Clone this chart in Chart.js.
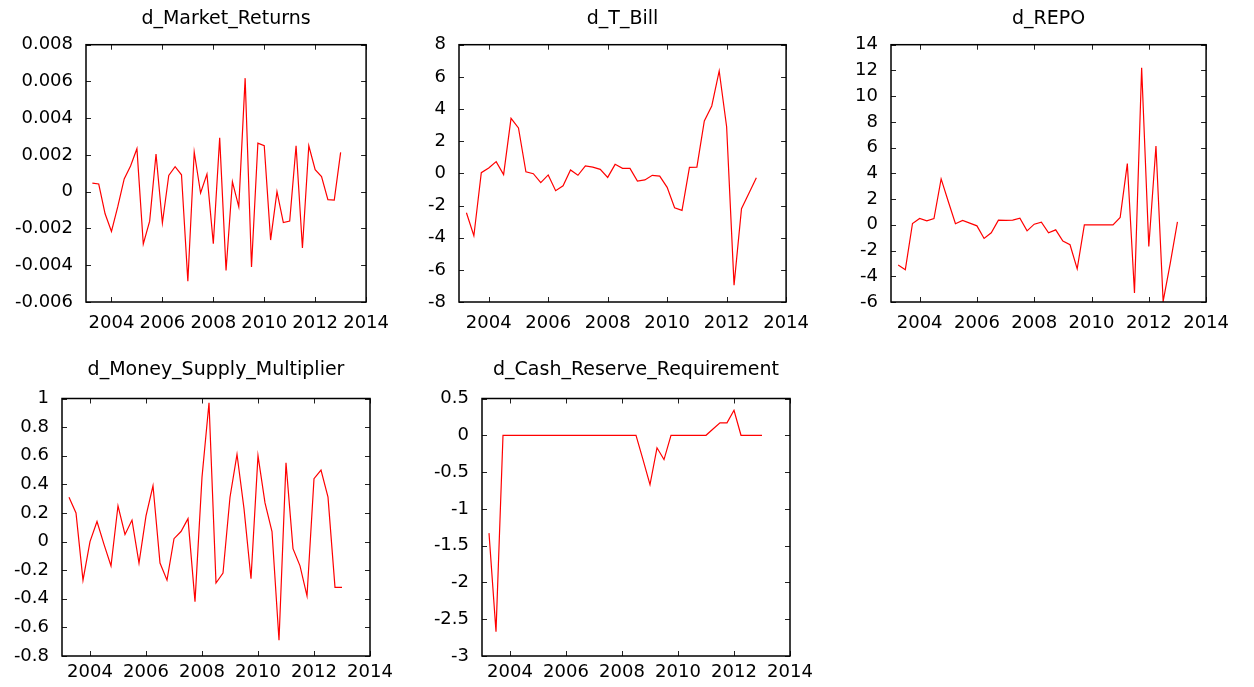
<!DOCTYPE html>
<html>
<head>
<meta charset="utf-8">
<script src="https://cdn.jsdelivr.net/npm/chart.js@4/dist/chart.umd.min.js"></script>
<style>
  body { margin: 0; background: #fff; width: 1254px; height: 687px; overflow: hidden; position: relative; }
  canvas { position: absolute; }
</style>
</head>
<body>
<script>
// quarterly observations, 2003:2 .. 2013:1
const firstYear = 2003
const firstQuarter = 2
const nObs = 40

const yearTicks = [2004, 2006, 2008, 2010, 2012, 2014]

const marketReturns = [0.00047, 0.00042, -0.0012, -0.00216, -0.0008, 0.0007, 0.0014, 0.00234, -0.00284, -0.0016,
  0.00205, -0.0017, 0.00089, 0.00136, 0.00092, -0.00487, 0.00216, -0.00007, 0.00096, -0.00283,
  0.00293, -0.00429, 0.00054, -0.00082, 0.00618, -0.0041, 0.00264, 0.0025, -0.00263, 0,
  -0.00168, -0.0016, 0.0025, -0.00306, 0.0025, 0.0012, 0.00082, -0.00043, -0.00045, 0.00214]
const tBill = [-2.45, -3.88, 0.04, 0.33, 0.73, -0.08, 3.42, 2.82, 0.1, -0.02,
  -0.58, -0.1, -1.08, -0.77, 0.21, -0.12, 0.46, 0.39, 0.25, -0.25,
  0.56, 0.31, 0.31, -0.48, -0.41, -0.12, -0.17, -0.87, -2.14, -2.3,
  0.37, 0.39, 3.26, 4.19, 6.37, 2.9, -6.95, -2.2, -1.24, -0.27]
const repo = [-3.13, -3.49, 0.1, 0.49, 0.31, 0.49, 3.57, 1.81, 0.08, 0.34,
  0.13, -0.08, -1.06, -0.62, 0.36, 0.34, 0.36, 0.52, -0.47, 0.05,
  0.21, -0.62, -0.39, -1.27, -1.55, -3.42, 0, 0, 0, 0,
  0, 0.57, 4.76, -5.3, 12.21, -1.68, 6.13, -5.95, -2.98, 0.23]
const moneyMultiplier = [0.31, 0.2, -0.27, 0, 0.14, -0.02, -0.17, 0.25, 0.05, 0.15,
  -0.15, 0.18, 0.39, -0.15, -0.27, 0.02, 0.07, 0.16, -0.42, 0.45,
  0.97, -0.29, -0.22, 0.31, 0.61, 0.23, -0.26, 0.6, 0.27, 0.07,
  -0.69, 0.55, -0.05, -0.17, -0.38, 0.44, 0.5, 0.31, -0.32, -0.32]
const cashReserve = [-1.33, -2.67, 0, 0, 0, 0, 0, 0, 0, 0,
  0, 0, 0, 0, 0, 0, 0, 0, 0, 0,
  0, 0, -0.33, -0.67, -0.17, -0.33, 0, 0, 0, 0,
  0, 0, 0.085, 0.17, 0.17, 0.34, 0, 0, 0, 0]

const yTicksMarket = [-0.006, -0.004, -0.002, 0, 0.002, 0.004, 0.006, 0.008]
const yTicksTBill = [-8, -6, -4, -2, 0, 2, 4, 6, 8]
const yTicksRepo = [-6, -4, -2, 0, 2, 4, 6, 8, 10, 12, 14]
const yTicksMoney = [-0.8, -0.6, -0.4, -0.2, 0, 0.2, 0.4, 0.6, 0.8, 1]
const yTicksCash = [-3, -2.5, -2, -1.5, -1, -0.5, 0, 0.5]

// gretl puts quarter q of year y at y + (q - 1) / 4
const dates = []
for (let i = 0; i < nObs; i++) {
  const q = firstQuarter - 1 + i
  dates.push(firstYear + Math.floor(q / 4) + (q % 4) / 4)
}

Chart.defaults.font.family = 'DejaVu Sans'
Chart.defaults.color = '#000'

const panels = [
  { title: 'd_Market_Returns', values: marketReturns, yTicks: yTicksMarket, l: 86, r: 370, t: 44.7, b: 302, row: 0 },
  { title: 'd_T_Bill', values: tBill, yTicks: yTicksTBill, l: 459, r: 790, t: 44.7, b: 302, row: 0 },
  { title: 'd_REPO', values: repo, yTicks: yTicksRepo, l: 891, r: 1210, t: 44.7, b: 302, row: 0 },
  { title: 'd_Money_Supply_Multiplier', values: moneyMultiplier, yTicks: yTicksMoney, l: 62, r: 370, t: 398.5, b: 656, row: 1 },
  { title: 'd_Cash_Reserve_Requirement', values: cashReserve, yTicks: yTicksCash, l: 482, r: 790, t: 398.5, b: 656, row: 1 }
]

const rows = [
  { top: 0, titleCenter: 18.7, labelPad: 11 },
  { top: 345, titleCenter: 370.2, labelPad: 6 }
]

// gnuplot style box with inward tick marks on all four sides
const frame = {
  id: 'frame',
  afterDatasetsDraw(chart) {
    const { ctx, chartArea: a, scales: { x, y } } = chart
    ctx.save()
    ctx.strokeStyle = '#222'
    ctx.lineWidth = 1
    ctx.beginPath()
    x.ticks.forEach(t => {
      const px = Math.round(x.getPixelForValue(t.value)) + 0.5
      ctx.moveTo(px, a.bottom); ctx.lineTo(px, a.bottom - 5)
      ctx.moveTo(px, a.top); ctx.lineTo(px, a.top + 5)
    })
    y.ticks.forEach(t => {
      const py = Math.round(y.getPixelForValue(t.value)) + 0.5
      ctx.moveTo(a.left, py); ctx.lineTo(a.left + 5, py)
      ctx.moveTo(a.right, py); ctx.lineTo(a.right - 5, py)
    })
    ctx.stroke()
    ctx.strokeStyle = '#000'
    ctx.lineWidth = 1.5
    ctx.strokeRect(a.left, a.top, a.right - a.left, a.bottom - a.top)
    ctx.restore()
  }
}

const xh = 45
const rp = 30
const tickSize = 18
const titleSize = 19
const titleLineH = titleSize * 1.2

panels.forEach(p => {
  const row = rows[p.row]
  const yw = Math.min(80, p.l)
  const canvas = document.createElement('canvas')
  const w = (p.r - p.l) + yw + rp
  const h = (p.b - row.top) + xh
  canvas.width = w
  canvas.height = h
  canvas.style.left = (p.l - yw) + 'px'
  canvas.style.top = row.top + 'px'
  canvas.style.width = w + 'px'
  canvas.style.height = h + 'px'
  document.body.appendChild(canvas)

  const padTop = row.titleCenter - row.top - titleLineH / 2
  const padBottom = p.t - row.titleCenter - titleLineH / 2

  new Chart(canvas.getContext('2d'), {
    type: 'line',
    data: {
      datasets: [{
        data: dates.map((d, i) => ({ x: d, y: p.values[i] })),
        borderColor: '#ff0000',
        borderWidth: 1.2,
        pointRadius: 0,
        fill: false,
        tension: 0
      }]
    },
    options: {
      responsive: false,
      animation: false,
      devicePixelRatio: 1,
      layout: { padding: { right: rp } },
      plugins: {
        legend: { display: false },
        tooltip: { enabled: false },
        title: {
          display: true,
          text: p.title,
          fullSize: false,
          color: '#000',
          font: { size: titleSize, weight: 'normal' },
          padding: { top: padTop, bottom: padBottom }
        }
      },
      scales: {
        x: {
          type: 'linear',
          min: 2003,
          max: 2014,
          grid: { display: false, drawTicks: false },
          border: { display: false },
          ticks: { font: { size: tickSize }, color: '#000', padding: row.labelPad, maxRotation: 0, autoSkip: false, callback: v => String(v) },
          afterBuildTicks: s => { s.ticks = yearTicks.map(v => ({ value: v })) },
          afterFit: s => { s.height = xh }
        },
        y: {
          min: p.yTicks[0],
          max: p.yTicks[p.yTicks.length - 1],
          grid: { display: false, drawTicks: false },
          border: { display: false },
          ticks: { font: { size: tickSize }, color: '#000', padding: 13, autoSkip: false, callback: v => String(+v.toFixed(6)) },
          afterBuildTicks: s => { s.ticks = p.yTicks.map(v => ({ value: v })) },
          afterFit: s => { s.width = yw }
        }
      }
    },
    plugins: [frame]
  })
})
</script>
</body>
</html>
